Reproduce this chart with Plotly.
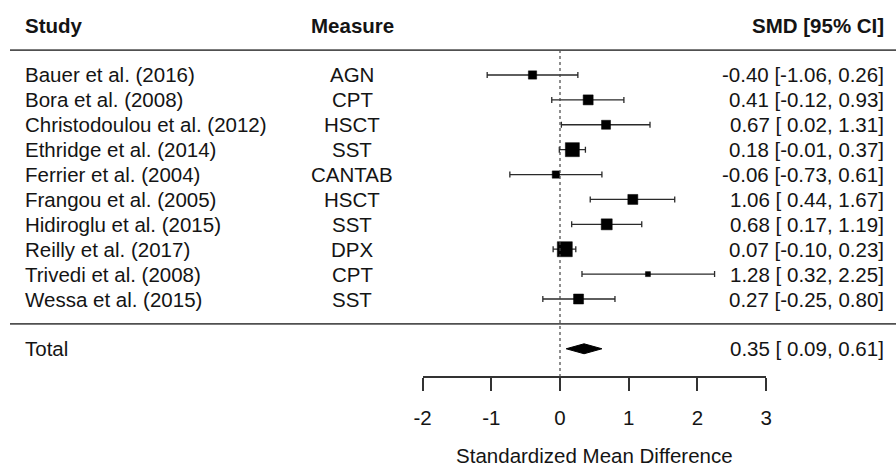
import plotly.graph_objects as go

studies = ["Bauer et al. (2016)", "Bora et al. (2008)", "Christodoulou et al. (2012)",
           "Ethridge et al. (2014)", "Ferrier et al. (2004)", "Frangou et al. (2005)",
           "Hidiroglu et al. (2015)", "Reilly et al. (2017)", "Trivedi et al. (2008)",
           "Wessa et al. (2015)"]
measures = ["AGN", "CPT", "HSCT", "SST", "CANTAB", "HSCT", "SST", "DPX", "CPT", "SST"]
smd = [-0.40, 0.41, 0.67, 0.18, -0.06, 1.06, 0.68, 0.07, 1.28, 0.27]
ci_lo = [-1.06, -0.12, 0.02, -0.01, -0.73, 0.44, 0.17, -0.10, 0.32, -0.25]
ci_hi = [0.26, 0.93, 1.31, 0.37, 0.61, 1.67, 1.19, 0.23, 2.25, 0.80]
weights = [8.3, 10, 9, 14, 7.3, 10, 11, 15, 5, 10]   # square size ~ study weight
total_est, total_lo, total_hi = 0.35, 0.09, 0.61
tick_vals = [-2, -1, 0, 1, 2, 3]
tick_text = ["-2", "-1", "0", "1", "2", "3"]

k = len(studies)
rows = [k - i for i in range(k)]
total_row = -1
header_row = k + 2
top_line_row = k + 1
sep_row = 0
axis_row = -2.13
y_min, y_max = -5.75, 13.013

W, H = 896, 467
FONT = "Liberation Sans, Arial, sans-serif"
FS = 20.5
TXT = "#141414"
LINE = "#505050"

fig = go.Figure()

# study estimates with CIs
fig.add_trace(go.Scatter(
    x=smd, y=rows, xaxis="x2", yaxis="y", mode="markers",
    marker=dict(symbol="square", size=weights, color="#000000", opacity=1,
                line=dict(width=0.5, color="#000000")),
    error_x=dict(type="data", symmetric=False,
                 array=[h - m for h, m in zip(ci_hi, smd)],
                 arrayminus=[m - l for m, l in zip(smd, ci_lo)],
                 color="#2a2a2a", thickness=1.3, width=3),
    hoverinfo="skip", showlegend=False))

# summary diamond
dh = 0.2
fig.add_trace(go.Scatter(
    x=[total_lo, total_est, total_hi, total_est, total_lo],
    y=[total_row, total_row + dh, total_row, total_row - dh, total_row],
    xaxis="x2", yaxis="y", mode="lines", fill="toself",
    fillcolor="black", line=dict(color="black", width=1),
    hoverinfo="skip", showlegend=False))

# reference line at 0
fig.add_shape(type="line", xref="x2", yref="y", x0=0, x1=0,
              y0=top_line_row, y1=axis_row,
              line=dict(color="#444444", width=1.2, dash="dot"))

# horizontal rules
for r in (top_line_row, sep_row):
    fig.add_shape(type="line", xref="paper", yref="y", x0=10 / W, x1=1,
                  y0=r, y1=r, line=dict(color=LINE, width=1.7))

ann = []
def txt(x, y, s, anchor, bold=False):
    ann.append(dict(x=x, y=y, xref="paper", yref="y", text=f"<b>{s}</b>" if bold else s,
                    showarrow=False, xanchor=anchor, yanchor="middle",
                    font=dict(family=FONT, size=FS, color=TXT)))

x_study, x_meas, x_ci = 23 / W, 352 / W, 886 / W
txt(x_study, header_row, "Study", "left", True)
txt(x_meas, header_row, "Measure", "center", True)
txt(x_ci, header_row, "SMD [95% CI]", "right", True)
for s, m, e, l, h, r in zip(studies, measures, smd, ci_lo, ci_hi, rows):
    txt(x_study, r, s, "left")
    txt(x_meas, r, m, "center")
    txt(x_ci, r, f"{e:.2f} [{l:5.2f}, {h:.2f}]", "right")
txt(x_study, total_row, "Total", "left")
txt(x_ci, total_row, f"{total_est:.2f} [{total_lo:5.2f}, {total_hi:.2f}]", "right")

axis_pos = (axis_row - y_min) / (y_max - y_min)
x0_px, unit_px = 560, 68.7

fig.update_layout(
    width=W, height=H, margin=dict(l=0, r=0, t=0, b=0, autoexpand=False),
    paper_bgcolor="white", plot_bgcolor="white",
    annotations=ann,
    xaxis=dict(visible=False, range=[0, 1], domain=[0, 1]),
    xaxis2=dict(domain=[(x0_px - 2 * unit_px) / W, (x0_px + 3 * unit_px) / W],
                range=[-2, 3], anchor="free", position=axis_pos,
                showline=True, linecolor="#333333", linewidth=1.5,
                ticks="outside", ticklen=13, tickwidth=1.5, tickcolor="#333333",
                tickvals=tick_vals, ticktext=tick_text, ticklabelstandoff=10,
                tickfont=dict(family=FONT, size=FS, color=TXT),
                showgrid=False, zeroline=False,
                title=dict(text="Standardized Mean Difference", standoff=27,
                           font=dict(family=FONT, size=FS, color=TXT))),
    yaxis=dict(visible=False, range=[y_min, y_max], domain=[0, 1]),
)

fig.write_html("out.html",
               post_script="document.body.style.margin='0';document.body.style.overflow='hidden';",
               config={"displayModeBar": False})
